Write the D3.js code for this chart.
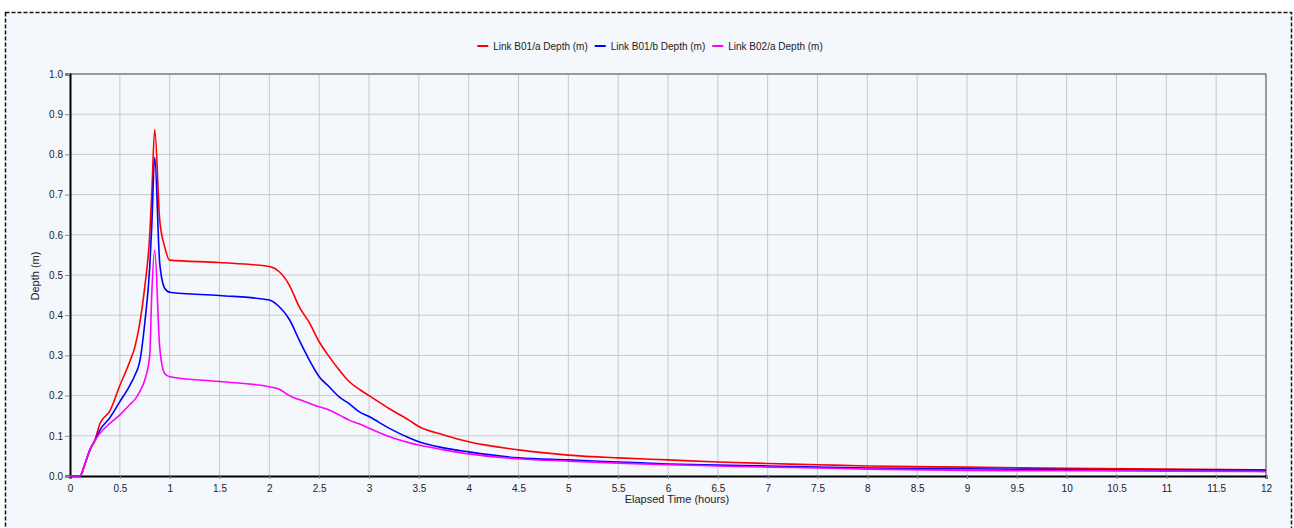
<!DOCTYPE html>
<html>
<head>
<meta charset="utf-8">
<script src="https://cdn.jsdelivr.net/npm/d3@7"></script>
<style>
  body { margin: 0; background: #fff; }
  text { font-family: "Liberation Sans", Arial, sans-serif; fill: #222; }
</style>
</head>
<body>
<svg width="1294" height="528"></svg>
<script>
const timeHours = [0, 0.1, 0.15, 0.2, 0.25, 0.3, 0.4, 0.5, 0.6, 0.65, 0.7, 0.75, 0.8, 0.82, 0.85,
    0.9, 0.95, 1.0, 1.5, 2.0, 2.1, 2.2, 2.3, 2.4, 2.5, 2.6, 2.7, 2.8, 2.9, 3.0,
    3.2, 3.4, 3.5, 3.75, 4, 4.5, 5, 5.5, 6, 6.5, 7, 7.5, 8, 9, 10, 11, 12]

const depthB01a = [0, 0, 0.03, 0.065, 0.09, 0.13, 0.162, 0.225, 0.285, 0.32, 0.38, 0.47, 0.6, 0.7, 0.862,
    0.637, 0.57, 0.537, 0.531, 0.521, 0.508, 0.475, 0.421, 0.382, 0.334, 0.297, 0.264, 0.235, 0.216, 0.2,
    0.168, 0.139, 0.123, 0.102, 0.085, 0.065, 0.052, 0.045, 0.04, 0.035, 0.031, 0.028, 0.025, 0.022, 0.019, 0.017, 0.015]

const depthB01b = [0, 0, 0.03, 0.065, 0.088, 0.114, 0.145, 0.185, 0.225, 0.25, 0.285, 0.38, 0.52, 0.62, 0.793,
    0.53, 0.467, 0.457, 0.449, 0.438, 0.421, 0.39, 0.338, 0.289, 0.247, 0.222, 0.197, 0.18, 0.16, 0.148,
    0.119, 0.095, 0.085, 0.07, 0.06, 0.045, 0.04, 0.035, 0.03, 0.027, 0.025, 0.022, 0.02, 0.018, 0.016, 0.015, 0.015]

const depthB02a = [0, 0, 0.03, 0.065, 0.088, 0.106, 0.131, 0.152, 0.178, 0.19, 0.21, 0.239, 0.3, 0.45, 0.562,
    0.32, 0.255, 0.247, 0.235, 0.222, 0.216, 0.2, 0.19, 0.181, 0.172, 0.164, 0.152, 0.139, 0.13, 0.119,
    0.098, 0.083, 0.077, 0.065, 0.055, 0.043, 0.037, 0.032, 0.028, 0.025, 0.022, 0.02, 0.017, 0.014, 0.013, 0.012, 0.011]

const seriesNames = ["Link B01/a Depth (m)", "Link B01/b Depth (m)", "Link B02/a Depth (m)"]
const seriesColors = ["#ff0000", "#0000ff", "#ff00ff"]
const xTicks = d3.range(0, 12.01, 0.5)
const yTicks = d3.range(0, 1.001, 0.1)

const svg = d3.select("svg")

// dashed outer frame
svg.append("rect")
    .attr("x", 5.5).attr("y", 12.5)
    .attr("width", 1286).attr("height", 540)
    .attr("fill", "#f4f7fc")
    .attr("stroke", "#111")
    .attr("stroke-width", 1.5)
    .attr("stroke-dasharray", "4,2")

const plotL = 70, plotR = 1266, plotT = 74, plotB = 476
const xScale = d3.scaleLinear().domain([0, 12]).range([plotL, plotR])
const yScale = d3.scaleLinear().domain([0, 1]).range([plotB, plotT])

// grid
const grid = svg.append("g")
grid.selectAll("line.vx")
    .data(xTicks.slice(1))
    .enter().append("line")
    .attr("x1", d => xScale(d)).attr("x2", d => xScale(d))
    .attr("y1", plotT).attr("y2", plotB)
    .attr("stroke", "#c9c9c9").attr("stroke-width", 1)
grid.selectAll("line.hy")
    .data(yTicks.slice(1))
    .enter().append("line")
    .attr("x1", plotL).attr("x2", plotR)
    .attr("y1", d => yScale(d)).attr("y2", d => yScale(d))
    .attr("stroke", "#c9c9c9").attr("stroke-width", 1)

// top + right frame
svg.append("path")
    .attr("d", `M${plotL},${plotT}H${plotR}V${plotB}`)
    .attr("fill", "none").attr("stroke", "#555").attr("stroke-width", 1)

// axes
const xAxis = d3.axisBottom(xScale).tickValues(xTicks).tickSize(3).tickPadding(6)
    .tickFormat(d3.format("~g"))
const yAxis = d3.axisLeft(yScale).tickValues(yTicks).tickSize(5).tickPadding(2)
    .tickFormat(d3.format(".1f"))

svg.append("g")
    .attr("id", "xAxisG")
    .attr("transform", `translate(0, ${plotB})`)
    .call(xAxis)

svg.append("g")
    .attr("id", "yAxisG")
    .attr("transform", `translate(${plotL}, 0)`)
    .call(yAxis)

svg.selectAll("#xAxisG text, #yAxisG text")
    .style("font-size", "10px")
    .attr("fill", "#222")
svg.selectAll("#xAxisG .tick line, #yAxisG .tick line").attr("stroke", "#888")
svg.selectAll("path.domain").attr("stroke", "#000").attr("stroke-width", 2)

// lines
const line = d3.line()
    .x((d, i) => xScale(timeHours[i]))
    .y(d => yScale(d))
    .curve(d3.curveMonotoneX)

svg.append("g")
    .selectAll("path.series")
    .data([depthB01a, depthB01b, depthB02a])
    .enter().append("path")
    .attr("class", "series")
    .attr("d", d => line(d))
    .attr("fill", "none")
    .attr("stroke", (d, i) => seriesColors[i])
    .attr("stroke-width", 1.6)

// axis titles
svg.append("text")
    .attr("x", 677).attr("y", 503)
    .attr("text-anchor", "middle")
    .style("font-size", "11px")
    .text("Elapsed Time (hours)")

svg.append("text")
    .attr("transform", `translate(39, 276) rotate(-90)`)
    .attr("text-anchor", "middle")
    .style("font-size", "11px")
    .text("Depth (m)")

// legend
const legend = svg.append("g")
let lx = 0
seriesNames.forEach((name, i) => {
    const item = legend.append("g").attr("transform", `translate(${lx}, 0)`)
    item.append("line")
        .attr("x1", 0).attr("x2", 11)
        .attr("y1", 0).attr("y2", 0)
        .attr("stroke", seriesColors[i]).attr("stroke-width", 2)
    const t = item.append("text")
        .attr("x", 16).attr("y", 3.5)
        .style("font-size", "10px")
        .text(name)
    lx += 16 + t.node().getComputedTextLength() + 7
})
const legendW = lx - 7
legend.attr("transform", `translate(${650 - legendW / 2}, 46)`)
</script>
</body>
</html>
